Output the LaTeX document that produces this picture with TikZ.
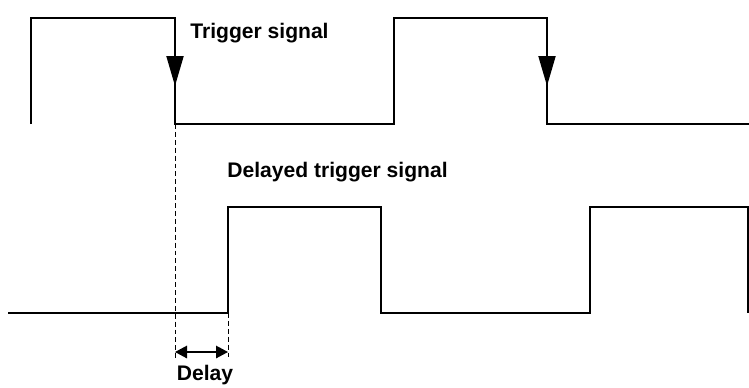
\documentclass[tikz,border=0pt]{standalone}
\usepackage{fontspec}
\setmainfont{Liberation Sans}
\usetikzlibrary{arrows.meta, positioning}

\begin{document}
\begin{tikzpicture}[
  x=0.02cm, y=-0.02cm,
  wave/.style={line width=1.1pt, line join=miter},
  guide/.style={line width=0.55pt, dash pattern=on 2.8pt off 1.7pt},
  edgearrow/.style={line width=1.1pt, -{Triangle[length=0.6cm, width=0.34cm]}},
  delayarrow/.style={line width=0.8pt,
    {Triangle[length=0.24cm, width=0.25cm]}-{Triangle[length=0.24cm, width=0.25cm]}},
  sigtext/.style={font=\fontsize{12}{14}\selectfont\bfseries, inner sep=0pt}
]
\useasboundingbox (0,0) rectangle (749,387);

\coordinate (fallA) at (175,18);
\coordinate (fallB) at (547,18);
\coordinate (lowA) at (175,124);
\coordinate (riseD) at (228,313);
\coordinate (delayL) at (175,352);
\coordinate (delayR) at (228,352);

\draw[wave] (31,124) |- (fallA) -- (lowA) -| (394,18) -| (547,124) -- (749,124);
\draw[edgearrow] (fallA) -- (175,86);
\draw[edgearrow] (fallB) -- (547,86);

\draw[wave] (8,313) -| (228,207) -| (381,313) -| (590,207) -| (748,313);

\draw[guide] (lowA) -- (175,358);
\draw[guide] (riseD) -- (228,358);
\draw[delayarrow] (delayL) -- (delayR);

\node[sigtext, anchor=base west] (trig) at (190,38) {Trigger signal};
\node[sigtext, anchor=base west] (dtrig) at (227,177) {Delayed trigger signal};
\node[sigtext, anchor=base] (delay) at (205,380) {Delay};

\end{tikzpicture}
\end{document}
